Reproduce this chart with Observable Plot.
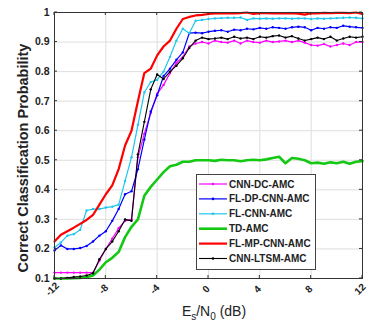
<!DOCTYPE html>
<html><head><meta charset="utf-8">
<script src="https://cdn.jsdelivr.net/npm/d3@7"></script>
<script src="https://cdn.jsdelivr.net/npm/@observablehq/plot@0.6"></script>
<style>body{margin:0;background:#fff;} svg{display:block}</style>
</head><body><div id="chart"></div>
<script>
const snr = [-12,-11.5,-11,-10.5,-10,-9.5,-9,-8.5,-8,-7.5,-7,-6.5,-6,-5.5,-5,-4.5,-4,-3.5,-3,-2.5,-2,-1.5,-1,-0.5,0,0.5,1,1.5,2,2.5,3,3.5,4,4.5,5,5.5,6,6.5,7,7.5,8,8.5,9,9.5,10,10.5,11,11.5,12];

const cnnDcAmc = [0.12,0.12,0.12,0.12,0.12,0.12,0.12,0.16,0.2,0.235,0.27,0.295,0.30,0.51,0.59,0.66,0.725,0.755,0.795,0.83,0.85,0.885,0.895,0.9,0.895,0.905,0.9,0.898,0.905,0.895,0.905,0.9,0.898,0.905,0.9,0.902,0.905,0.9,0.905,0.898,0.89,0.888,0.893,0.885,0.89,0.895,0.89,0.9,0.9];
const flDpCnnAmc = [0.195,0.212,0.2,0.2,0.203,0.21,0.225,0.245,0.26,0.295,0.335,0.385,0.395,0.47,0.57,0.665,0.72,0.785,0.81,0.84,0.865,0.93,0.932,0.93,0.935,0.938,0.94,0.935,0.942,0.94,0.945,0.943,0.948,0.945,0.95,0.948,0.945,0.95,0.952,0.95,0.94,0.948,0.945,0.95,0.948,0.955,0.952,0.95,0.948];
const flCnnAmc = [0.205,0.222,0.245,0.25,0.265,0.33,0.335,0.335,0.34,0.343,0.35,0.43,0.51,0.62,0.73,0.765,0.772,0.80,0.85,0.905,0.945,0.93,0.972,0.975,0.978,0.98,0.981,0.982,0.982,0.983,0.975,0.98,0.979,0.98,0.979,0.98,0.98,0.979,0.98,0.98,0.978,0.98,0.979,0.98,0.981,0.982,0.983,0.982,0.98];
const tdAmc = [0.10,0.10,0.10,0.101,0.102,0.104,0.11,0.13,0.155,0.17,0.19,0.24,0.275,0.30,0.38,0.41,0.435,0.46,0.48,0.485,0.495,0.495,0.5,0.5,0.5,0.498,0.502,0.5,0.5,0.497,0.5,0.502,0.5,0.503,0.508,0.512,0.49,0.508,0.505,0.5,0.49,0.492,0.488,0.493,0.49,0.495,0.488,0.495,0.497];
const flMpCnnAmc = [0.225,0.248,0.26,0.272,0.285,0.298,0.315,0.35,0.385,0.415,0.47,0.55,0.60,0.70,0.795,0.81,0.855,0.885,0.905,0.945,0.978,0.985,0.99,0.992,0.995,0.997,0.997,0.998,0.997,0.998,1.0,0.995,0.998,0.998,0.997,0.998,0.997,0.998,0.996,0.993,0.998,0.997,0.999,0.998,0.999,0.999,0.998,1.0,0.995];
const cnnLtsmAmc = [0.10,0.10,0.102,0.105,0.107,0.11,0.118,0.165,0.2,0.225,0.26,0.30,0.295,0.52,0.63,0.74,0.79,0.775,0.80,0.82,0.845,0.88,0.905,0.915,0.91,0.912,0.915,0.91,0.918,0.912,0.915,0.91,0.918,0.915,0.92,0.922,0.915,0.92,0.912,0.905,0.91,0.915,0.91,0.918,0.905,0.912,0.918,0.915,0.918];

const seriesNames = ["CNN-DC-AMC","FL-DP-CNN-AMC","FL-CNN-AMC","TD-AMC","FL-MP-CNN-AMC","CNN-LTSM-AMC"];
const seriesValues = [cnnDcAmc, flDpCnnAmc, flCnnAmc, tdAmc, flMpCnnAmc, cnnLtsmAmc];
const seriesColors = ["#ff00ff","#0000ff","#1ec6f0","#14c814","#ff0000","#000000"];
const seriesWidths = [1.2, 1.2, 1.2, 2.6, 2.2, 1.1];
const seriesMarkers = [true, true, true, false, false, true];

const xTicks = [-12,-8,-4,0,4,8,12];
const xTickLabels = ["-12","-8","-4","0","4","8","12"];
const yTicks = [0.1,0.2,0.3,0.4,0.5,0.6,0.7,0.8,0.9,1];
const yTickLabels = ["0.1","0.2","0.3","0.4","0.5","0.6","0.7","0.8","0.9","1"];

const font = "'Liberation Sans', Arial, Helvetica, sans-serif";

const seriesRows = seriesNames.map((name, k) => snr.map((x, i) => ({x, y: seriesValues[k][i], s: name})));

const lineMarks = [];
seriesNames.forEach((name, k) => {
  lineMarks.push(Plot.line(seriesRows[k], {x: "x", y: "y", stroke: seriesColors[k], strokeWidth: seriesWidths[k], strokeLinejoin: "round"}));
  if (seriesMarkers[k]) lineMarks.push(Plot.dot(seriesRows[k], {x: "x", y: "y", r: 1.2, fill: seriesColors[k], stroke: "none"}));
});

const plot = Plot.plot({
  width: 371, height: 329,
  marginLeft: 54, marginRight: 9, marginTop: 12, marginBottom: 51,
  style: {fontFamily: font, background: "#fff", overflow: "visible"},
  x: {domain: [-12, 12], axis: null},
  y: {domain: [0.1, 1], axis: null},
  marks: [
    Plot.gridX(xTicks, {stroke: "#dedede", strokeOpacity: 1, strokeWidth: 1}),
    Plot.gridY(yTicks, {stroke: "#dedede", strokeOpacity: 1, strokeWidth: 1}),
    ...lineMarks,
    Plot.frame({stroke: "#333", strokeWidth: 1}),
    Plot.text(xTicks, {x: d => d, text: (d, i) => xTickLabels[i], frameAnchor: "bottom", dy: 13, rotate: -45, textAnchor: "middle", fontWeight: "bold", fontSize: 10, fill: "#222"}),
    Plot.text(yTicks, {y: d => d, text: (d, i) => yTickLabels[i], frameAnchor: "left", dx: -5, textAnchor: "end", fontWeight: "bold", fontSize: 10.5, fill: "#222"})
  ]
});

document.getElementById("chart").appendChild(plot);

const svg = d3.select(plot);
const sx = plot.scale("x"), sy = plot.scale("y");
const x0 = sx.apply(-12), x1 = sx.apply(12), y0 = sy.apply(0.1), y1 = sy.apply(1);
const tickG = svg.append("g").attr("stroke", "#333").attr("stroke-width", 1);
yTicks.forEach(v => {
  const py = sy.apply(v);
  tickG.append("line").attr("x1", x0).attr("x2", x0 + 3).attr("y1", py).attr("y2", py);
  tickG.append("line").attr("x1", x1).attr("x2", x1 - 3).attr("y1", py).attr("y2", py);
});
xTicks.forEach(v => {
  const px = sx.apply(v);
  tickG.append("line").attr("x1", px).attr("x2", px).attr("y1", y0).attr("y2", y0 - 3);
  tickG.append("line").attr("x1", px).attr("x2", px).attr("y1", y1).attr("y2", y1 + 3);
});

// axis titles
svg.append("text")
  .attr("transform", `translate(27.5,${(y0 + y1) / 2 + 13}) rotate(-90)`)
  .attr("text-anchor", "middle")
  .attr("font-family", font).attr("font-weight", "bold").attr("font-size", 14.5).attr("fill", "#222")
  .text("Correct Classification Probability");

const xl = svg.append("text")
  .attr("x", 214).attr("y", 316)
  .attr("text-anchor", "middle")
  .attr("font-family", font).attr("font-size", 14).attr("fill", "#222");
xl.append("tspan").text("E");
xl.append("tspan").attr("font-size", 10).attr("dy", 4).text("s");
xl.append("tspan").attr("dy", -4).text("/N");
xl.append("tspan").attr("font-size", 10).attr("dy", 4).text("0");
xl.append("tspan").attr("dy", -4).text(" (dB)");

// legend
const lg = svg.append("g");
lg.append("rect").attr("x", 196.5).attr("y", 174.5).attr("width", 119).attr("height", 95)
  .attr("fill", "#fff").attr("stroke", "#444").attr("stroke-width", 1);
seriesNames.forEach((name, k) => {
  const ly = 184 + k * 14.9;
  lg.append("line").attr("x1", 199).attr("x2", 227).attr("y1", ly).attr("y2", ly)
    .attr("stroke", seriesColors[k]).attr("stroke-width", seriesWidths[k]);
  if (seriesMarkers[k]) lg.append("circle").attr("cx", 213).attr("cy", ly).attr("r", 1.3).attr("fill", seriesColors[k]);
  lg.append("text").attr("x", 229).attr("y", ly).attr("dy", "0.35em")
    .attr("text-anchor", "start")
    .attr("font-family", font).attr("font-weight", "bold").attr("font-size", 10).attr("fill", "#222")
    .text(name);
});
</script>
</body></html>
